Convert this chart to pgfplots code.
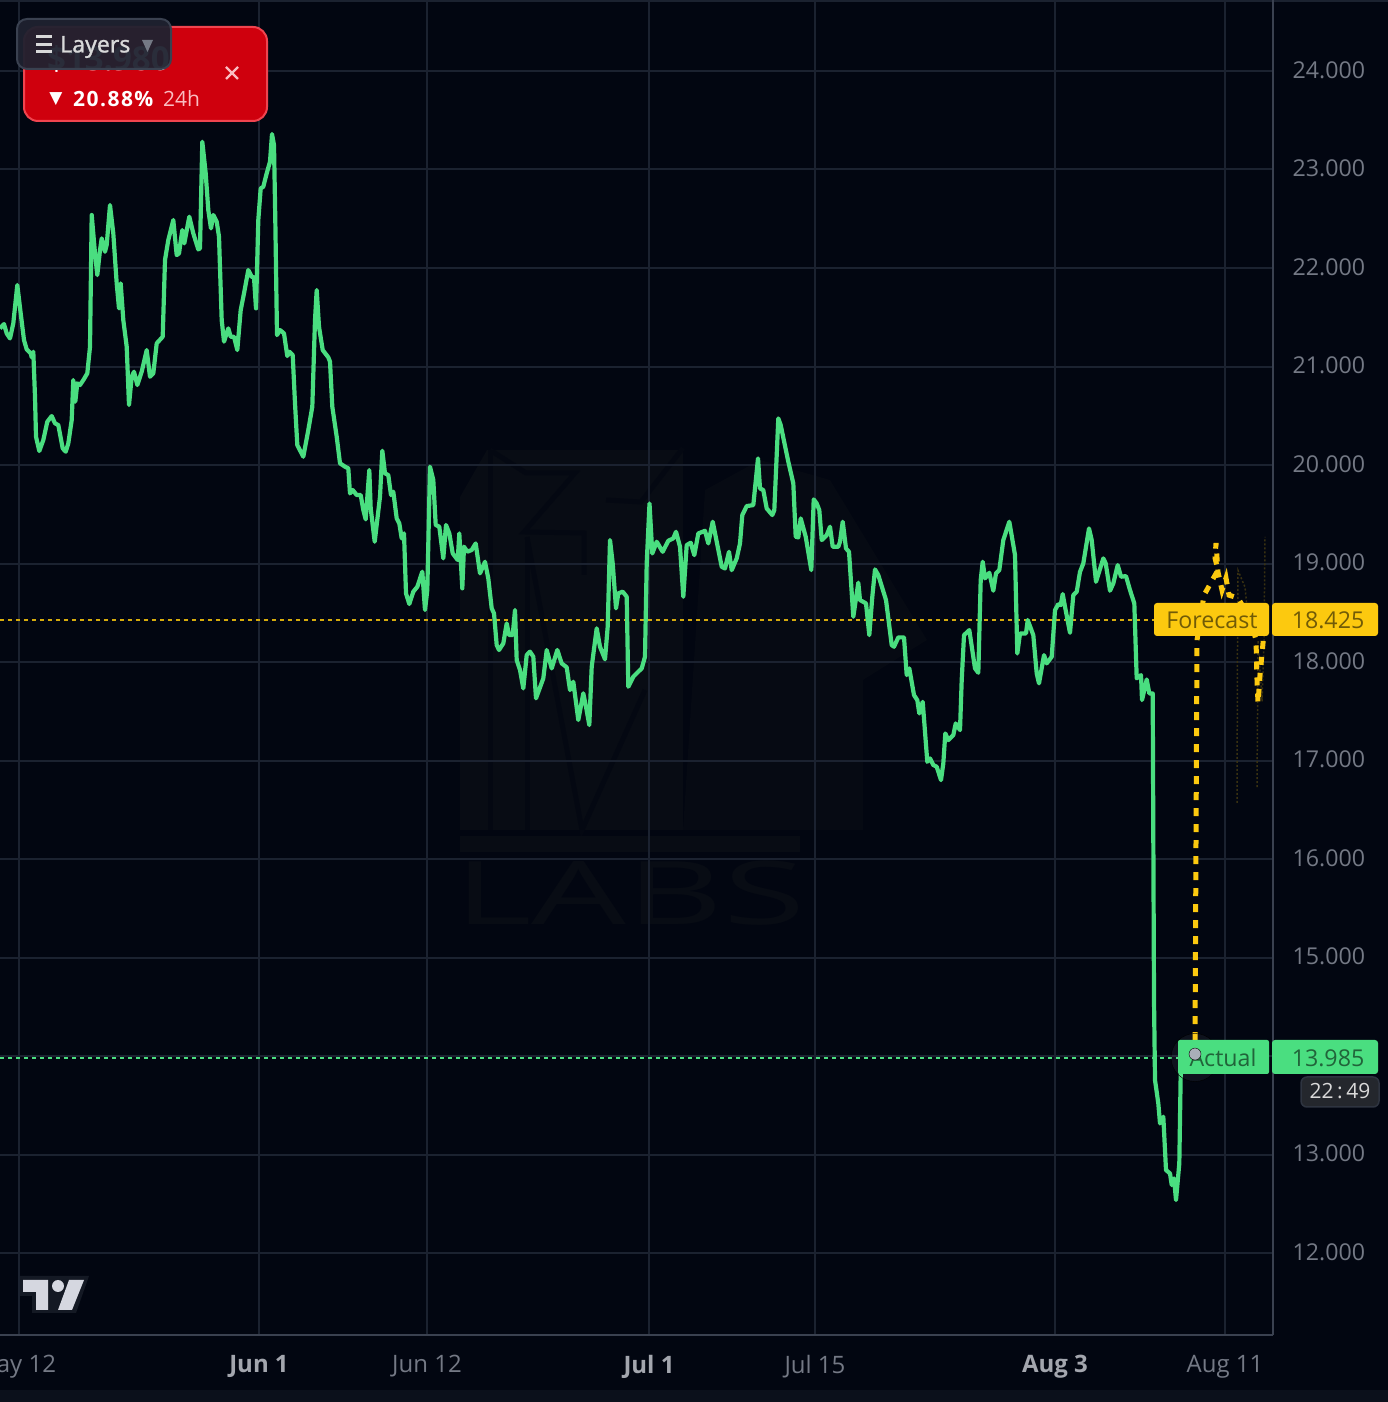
\documentclass[border=0pt]{standalone}
\usepackage{fontspec}
\usepackage{pgfplots}
\pgfplotsset{compat=1.18}
\setmainfont{Open Sans}
\newfontfamily\uifont[FakeBold=1]{Noto Sans}
\newfontfamily\symfont{DejaVu Sans}
\definecolor{bg}{HTML}{020611}
\definecolor{strip}{HTML}{0B101B}
\definecolor{gridc}{HTML}{1B2230}
\definecolor{axisc}{HTML}{3A4150}
\definecolor{tickc}{HTML}{747985}
\definecolor{boldc}{HTML}{A3A6AE}
\definecolor{actualc}{HTML}{4ADE80}
\definecolor{forec}{HTML}{FCC90F}
\definecolor{wm}{HTML}{080C14}
\definecolor{cardc}{HTML}{CF000D}
\definecolor{cardb}{HTML}{F0444F}
\definecolor{layerc}{HTML}{1F2230}
\definecolor{logoc}{HTML}{D5D7E0}
\definecolor{logob}{HTML}{141924}
\definecolor{dotc}{HTML}{A9AEB9}
\newcommand{\bl}[1]{\textcolor{boldc}{\textbf{#1}}}

\begin{document}
\begin{tikzpicture}
\useasboundingbox (0,0) rectangle (1388pt,1402pt);
\fill[bg] (0,0) rectangle (1388pt,1402pt);
\fill[strip] (0,0) rectangle (1388pt,12pt);
\fill[gridc] (0,1400pt) rectangle (1388pt,1402pt);

% watermark, barely visible
\begin{scope}[x=1pt,y=-1pt,yshift=1402pt]
\fill[wm] (460,497) -- (487,450) -- (683,450) -- (683,830) -- (460,830) -- cycle;
\fill[wm!65!bg] (705,490) -- (760,460) -- (830,480) -- (927,640) -- (863,680) -- (863,830) -- (683,830) -- cycle;
\begin{scope}[bg!60!wm,line width=5pt]
\draw (490,450) -- (490,830);
\draw (490,450) -- (526,473) -- (575,473) -- (524,532) -- (584,533) -- (584,575);
\draw (527,537) -- (527,830);
\draw (527,537) -- (582,830) -- (645,690);
\draw (606,500) -- (641,502) -- (683,448);
\end{scope}
\fill[wm] (460,836) rectangle (800,852);
\node[text=wm,font=\fontsize{88}{90}\selectfont,anchor=center,xscale=1.7] at (630,893) {LABS};
\end{scope}

\begin{axis}[
  at={(0pt,67pt)}, anchor=south west,
  scale only axis, width=1273pt, height=1335pt,
  xmin=0, xmax=1273, ymin=11.168, ymax=24.7208,
  axis x line=bottom, axis y line=right,
  axis line style={axisc,line width=2pt,-},
  xtick={19,259,427,649,815,1055,1225},
  xticklabels={\makebox[0pt][r]{ay 12\hspace*{-37pt}},\bl{Jun 1},Jun 12,\bl{Jul 1},Jul 15,\bl{Aug 3},Aug 11},
  ytick={12,13,14,15,16,17,18,19,20,21,22,23,24},
  yticklabels={12.000,13.000,14.000,15.000,16.000,17.000,18.000,19.000,20.000,21.000,22.000,23.000,24.000},
  major tick length=0pt,
  grid=major,
  grid style={gridc,line width=2pt},
  xticklabel style={text=tickc,font=\fontsize{24}{26}\selectfont,yshift=-17pt},
  yticklabel style={text=tickc,font=\fontsize{23.2}{25}\selectfont,xshift=16pt,yshift=1pt},
]
% reference lines
\addplot[forec!85!black,line width=2pt,dash pattern=on 4pt off 4pt] coordinates {(0,18.425) (1154,18.425)};
\addplot[actualc,line width=2pt,dash pattern=on 4pt off 4pt] coordinates {(0,13.985) (1178,13.985)};
% faint forecast paths
\addplot[color=forec!22!bg,line width=1.5pt,dash pattern=on 2pt off 2pt] coordinates {(1237,16.57) (1237.5,18.20) (1238,18.93) (1245,18.76) (1249,18.35)};
\addplot[color=forec!22!bg,line width=1.5pt,dash pattern=on 2pt off 2pt] coordinates {(1257,16.73) (1258,18.22) (1262,17.60) (1264,18.2) (1265,19.27)};
% price
\addplot[actualc,line width=4.2pt,line join=round] coordinates {
(0,21.387) (4,21.431) (6.7,21.336) (10,21.285) (13.3,21.438) (17.3,21.827) (20.7,21.539) (24,21.268)
(26.7,21.174) (30.7,21.133) (31.7,21.093) (33.3,21.150) (35,20.693) (36,20.287) (39.3,20.142) (43.3,20.253)
(47.3,20.439) (51.7,20.497) (55,20.423) (58.3,20.406) (62.7,20.169) (65.7,20.135) (68.3,20.219) (71.7,20.456)
(73.3,20.862) (75.3,20.643) (77.3,20.829) (80,20.812) (83.3,20.862) (87.3,20.930) (90,21.201) (91.7,22.538)
(95,22.148) (97.3,21.928) (100,22.182) (101.7,22.301) (105,22.165) (106.7,22.233) (110,22.639) (113.3,22.351)
(116.7,21.844) (119,21.590) (120.7,21.844) (123.3,21.472) (126.7,21.201) (129,20.609) (131.7,20.896) (134,20.947)
(137.3,20.812) (141.7,20.947) (146.7,21.167) (150,20.896) (153.3,20.930) (156.7,21.235) (162.7,21.302) (165,22.081)
(168.3,22.284) (173.3,22.487) (176.7,22.131) (179,22.148) (182.3,22.385) (184.3,22.250) (189.3,22.521) (193.3,22.351)
(198.3,22.189) (200,22.199) (202.3,23.282) (205.7,22.961) (208.3,22.588) (211,22.402) (213.3,22.538) (216.7,22.470)
(219,22.318) (221.7,21.472) (224,21.252) (228.3,21.387) (230.7,21.302) (234,21.302) (237.3,21.167) (240.7,21.573)
(244,21.742) (248.3,21.979) (251.7,21.911) (254,21.905) (256,21.590) (258.3,22.487) (260.7,22.808) (263.3,22.825)
(266.7,22.961) (270,23.079) (272,23.360) (274,23.248) (275.3,22.487) (277,21.319) (280,21.370) (284,21.336)
(287.3,21.106) (289.3,21.150) (292.7,21.116) (295,20.626) (297.3,20.202) (303.3,20.084) (308.3,20.355) (312.3,20.592)
(315,21.472) (316.7,21.776) (319,21.404) (322.7,21.167) (328.3,21.093) (330,21.049) (332.3,20.592) (336.7,20.287)
(340,20.017) (345,19.983) (348.3,19.966) (350,19.712) (352.7,19.746) (356.7,19.695) (360.7,19.695) (363.3,19.543)
(365.7,19.448) (369.3,19.949) (370.7,19.560) (374.7,19.221) (380,19.678) (382.3,20.145) (385,19.915) (388.3,19.898)
(391,19.695) (393.3,19.729) (396.7,19.458) (399.3,19.407) (401.7,19.255) (404,19.306) (406,18.697) (409.3,18.589)
(413.3,18.714) (417.3,18.764) (422.3,18.917) (425,18.528) (427.3,18.731) (430,19.983) (433.3,19.847) (435.7,19.391)
(439.3,19.374) (443.3,19.052) (446,19.391) (449.3,19.306) (452.7,19.103) (457.7,19.035) (459.3,19.306) (462.3,18.748)
(464,19.171) (467.3,19.120) (471.7,19.137) (475.7,19.204) (480,18.900) (485,19.018) (488.3,18.849) (491.7,18.545)
(494,18.494) (496.7,18.172) (499,18.122) (503.3,18.189) (506.7,18.392) (509,18.274) (512.7,18.274) (515,18.528)
(516.7,18.020) (520,17.919) (523.3,17.732) (526.7,18.071) (530,18.105) (533.3,18.054) (536,17.631) (543.3,17.834)
(546.7,18.122) (551.7,17.935) (557.3,18.122) (561.7,17.986) (566.7,17.946) (570,17.715) (573.3,17.800) (578.3,17.411)
(583.3,17.682) (586,17.546) (589.3,17.360) (591.7,17.952) (596.7,18.342) (600,18.155) (605,18.027) (607.7,18.359)
(610,19.238) (612.7,19.001) (616,18.545) (618.3,18.697) (622.7,18.714) (626.7,18.663) (628.3,17.749) (633.3,17.851)
(638.3,17.902) (641.7,17.935) (645,18.054) (646.7,19.001) (649.5,19.610) (652.3,19.102) (656.7,19.221) (662.7,19.119)
(668.3,19.231) (673.3,19.255) (676,19.322) (680,19.170) (683.3,18.662) (686.7,19.187) (690.7,19.211) (694.3,19.085)
(698.3,19.305) (705,19.332) (708.3,19.204) (712.7,19.424) (716.7,19.221) (721.7,18.967) (725,18.950) (729,19.119)
(731.7,18.933) (736.7,19.052) (740,19.204) (742.3,19.492) (746.7,19.583) (753.3,19.593) (758,20.067) (760,19.762)
(763.3,19.745) (766.7,19.559) (772.3,19.492) (774.3,19.542) (778.3,20.473) (780.7,20.405) (788.3,20.033) (793.3,19.813)
(795.7,19.272) (798.3,19.265) (800.7,19.458) (805.7,19.272) (811.3,18.933) (813.7,19.651) (816.7,19.610) (819.3,19.542)
(821.7,19.238) (826.7,19.288) (830,19.373) (832.7,19.170) (838.3,19.170) (840,19.221) (842.7,19.424) (846,19.153)
(849,19.119) (853.3,18.459) (858.3,18.805) (860,18.629) (866,18.595) (869.3,18.273) (872.3,18.662) (875,18.940)
(878.3,18.882) (886,18.629) (891.7,18.172) (894,18.155) (898.3,18.250) (904,18.250) (906.7,17.867) (909.3,17.935)
(914,17.664) (917.3,17.613) (919.3,17.478) (922.7,17.596) (927.3,16.987) (930,17.021) (933.3,16.954) (936.7,16.937)
(941,16.801) (943.3,16.970) (945.3,17.275) (948.3,17.207) (953.3,17.258) (955.7,17.376) (960,17.309) (961.7,17.816)
(964,18.273) (969.3,18.324) (975,17.935) (978.3,17.891) (980.7,18.832) (982.7,19.018) (985,18.849) (989.3,18.906)
(993.3,18.724) (996,18.900) (999.3,18.933) (1003.3,19.238) (1009.3,19.424) (1015,19.086) (1017.3,18.087) (1020,18.290)
(1026,18.290) (1027.7,18.426) (1033.3,18.273) (1036.7,17.884) (1039,17.783) (1044,18.070) (1046.7,17.986) (1051.7,18.053)
(1055,18.527) (1058.3,18.588) (1060.7,18.578) (1062.7,18.690) (1065,18.561) (1070,18.297) (1073.3,18.680) (1076.7,18.713)
(1080,18.916) (1083.3,19.001) (1089,19.356) (1091.7,19.238) (1096,18.815) (1103.3,19.052) (1105.7,19.001) (1110,18.724)
(1113.3,18.798) (1117.7,18.984) (1121,18.866) (1126,18.872) (1130,18.730) (1134.3,18.595) (1136.7,17.834) (1141,17.867)
(1142,17.614) (1146.7,17.823) (1149.3,17.681) (1152.7,17.681) (1154,14.568) (1155,13.756) (1158.3,13.519) (1160,13.316)
(1163.3,13.384) (1166,12.842) (1170,12.808) (1171.7,12.690) (1174,12.758) (1176,12.538) (1179.3,12.910) (1180.7,13.823)
(1181.7,14.000) (1195,13.985)
};
% forecast
\addplot[forec,line width=5pt,dash pattern=on 8pt off 8pt] coordinates {
(1195,14.162) (1197,18.223) (1204,18.679) (1214,18.862) (1218,18.933) (1215,19.055) (1216,19.207)
(1218,18.913) (1222,18.730) (1226,18.852) (1229,18.679) (1238,18.649) (1250,18.446) (1256,18.223)
(1257,17.816) (1258,17.583) (1260,17.867) (1263,18.192) (1265,18.426)
};
% halo of last price
\addplot[only marks,mark=*,mark size=24pt,mark options={fill=white,draw=none,fill opacity=0.05}] coordinates {(1195,13.985)};
\end{axis}

\begin{scope}[x=1pt,y=-1pt,yshift=1402pt]
% price labels
\fill[forec,rounded corners=3pt] (1154,603) rectangle (1269,636);
\fill[forec,rounded corners=3pt] (1272,603) rectangle (1378,636);
\node[text=forec!45!black,font=\fontsize{23.2}{25}\selectfont] at (1212,620) {Forecast};
\node[text=forec!45!black,font=\fontsize{23.2}{25}\selectfont] at (1328,620) {18.425};
\fill[actualc,rounded corners=2pt] (1178,1040) rectangle (1269,1074);
\fill[actualc,rounded corners=3pt] (1272,1040) rectangle (1378,1074);
\node[text=actualc!45!black,font=\fontsize{23.2}{25}\selectfont] at (1223,1058) {Actual};
\node[text=actualc!45!black,font=\fontsize{23.2}{25}\selectfont] at (1328,1058) {13.985};
\draw[fill=logob!60!black!90!white,draw=axisc!80!black,line width=1.5pt,rounded corners=6pt] (1301,1077) rectangle (1379,1107);
\node[text=white!85!black,font=\fontsize{21}{23}\selectfont] at (1340,1091) {22\,:\,49};

% TradingView mark
\fill[logob] (20,1276) -- (89,1276) -- (76,1313) -- (32,1313) -- (32,1296) -- (20,1296) -- cycle;
\fill[logoc] (23,1280) -- (48,1280) -- (48,1310) -- (36,1310) -- (36,1292) -- (23,1292) -- cycle;
\fill[logoc] (58,1286) circle (6);
\fill[logoc] (69,1280) -- (84,1280) -- (72,1310) -- (58,1310) -- cycle;

% alert card
\draw[fill=cardc,draw=cardb,line width=2pt,rounded corners=14pt] (24,27) rectangle (267,121);
\node[text=white,font=\symfont\fontsize{17}{20}\selectfont] at (56,99) {▼};
\node[text=white,font=\bfseries\fontsize{21}{24}\selectfont\addfontfeature{LetterSpace=7},anchor=west,inner sep=0pt] at (73,99) {20.88\%};
\node[text=cardb!35!white,font=\fontsize{21}{24}\selectfont,anchor=west,inner sep=0pt] at (163,99) {24h};
\draw[cardb!35!white,line width=2.4pt] (226,67) -- (238,79) (238,67) -- (226,79);
\node[text=white,font=\bfseries\fontsize{33}{35}\selectfont,anchor=west,inner sep=0pt] at (47,59) {\$13.980};

% layers button
\draw[draw=axisc,line width=2pt,fill=layerc,fill opacity=0.95,rounded corners=10pt] (17,19) rectangle (171,69);
\draw[white!85!black,line width=3pt] (36,37) -- (52,37) (36,44.5) -- (52,44.5) (36,52) -- (52,52);
\node[text=white!85!black,font=\uifont\fontsize{23}{25}\selectfont,anchor=west,inner sep=0pt] at (60,47) {Layers};
\fill[tickc] (142,40) -- (153,40) -- (147.5,52) -- cycle;
\end{scope}

% dot sits on top of the Actual label
\begin{axis}[
  at={(0pt,67pt)}, anchor=south west,
  scale only axis, width=1273pt, height=1335pt,
  xmin=0, xmax=1273, ymin=11.168, ymax=24.7208,
  hide axis,
]
\addplot[only marks,mark=*,mark size=6pt,mark options={fill=dotc,draw=none}] coordinates {(1195,14.02)};
\end{axis}
\end{tikzpicture}
\end{document}
